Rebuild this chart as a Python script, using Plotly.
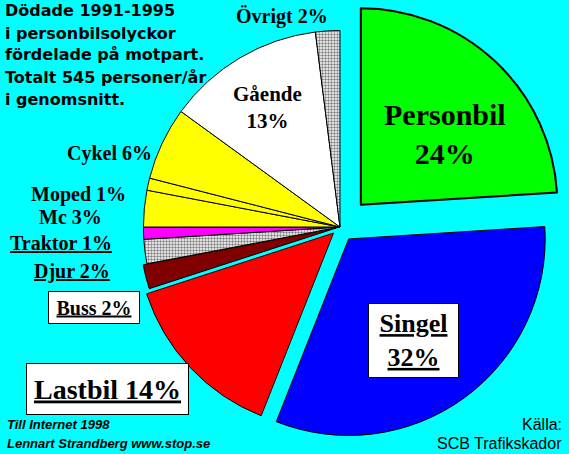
import plotly.graph_objects as go

labels = ["Personbil", "Singel", "Lastbil", "Buss", "Djur", "Traktor",
          "Mc", "Moped", "Cykel", "Gående", "Övrigt"]
values = [24, 32, 14, 2, 2, 1, 3, 1, 6, 13, 2]
pull = [0.155, 0.075, 0.045, 0.02, 0, 0, 0, 0, 0, 0, 0]
colors = ["#00FF00", "#0000FF", "#FF0000", "#800000", "#FFFFFF", "#FF00FF",
          "#FFFF00", "#FFFF00", "#FFFF00", "#FFFFFF", "#FFFFFF"]
patterns = ["", "", "", "", ".", "", "", "", "", "", "."]

title_lines = ["Dödade 1991-1995", "i personbilsolyckor", "fördelade på motpart.",
               "Totalt 545 personer/år", "i genomsnitt."]
credit_lines = ["Till Internet 1998", "Lennart Strandberg www.stop.se"]
source_lines = ["Källa:", "SCB Trafikskador"]

W, H = 569, 454
SERIF = "Liberation Serif"
SANS = "Liberation Sans"

fig = go.Figure(go.Pie(
    labels=labels,
    values=values,
    pull=pull,
    sort=False,
    direction="clockwise",
    rotation=0,
    textinfo="none",
    hoverinfo="label+percent",
    marker=dict(colors=colors,
                line=dict(color="black", width=[2] + [1] * 10),
                pattern=dict(shape=patterns, fgcolor="#808080", bgcolor="#FFFFFF",
                             size=3, solidity=0.5)),
    domain=dict(x=[0.195, 1.0], y=[0, 1]),
))

# label placement: center in pixels, font size, style, line break
label_pos = {
    "Personbil": (445, 134, 30, "plain", True),
    "Singel":    (413, 340, 26, "box", True),
    "Lastbil":   (107, 389, 28, "box", False),
    "Buss":      (94, 307, 20, "box", False),
    "Djur":      (72, 271, 20, "under", False),
    "Traktor":   (61, 243, 20, "under", False),
    "Mc":        (70, 217, 20, "plain", False),
    "Moped":     (78, 194, 20, "plain", False),
    "Cykel":     (109, 153, 20, "plain", False),
    "Gående":    (267, 108, 21, "plain", True),
    "Övrigt":    (282, 16, 20, "plain", False),
}
box_size = {"Singel": (89, 73), "Lastbil": (161, 50), "Buss": (90, 31)}

anns = []
for lab, val in zip(labels, values):
    x, y, size, kind, br = label_pos[lab]
    sep = "<br>" if br else " "
    if kind == "plain":
        txt = f"<b>{lab}{sep}{val}%</b>"
    else:
        txt = f"<b><u>{lab}</u>{sep}<u>{val}%</u></b>" if br else f"<b><u>{lab} {val}%</u></b>"
    a = dict(x=x / W, y=1 - y / H, xref="paper", yref="paper", text=txt,
             showarrow=False, xanchor="center", yanchor="middle",
             font=dict(family=SERIF, size=size, color="black"))
    if kind == "box":
        bw, bh = box_size[lab]
        a.update(bgcolor="white", bordercolor="black", borderwidth=1,
                 borderpad=0, width=bw, height=bh)
    anns.append(a)

for i, line in enumerate(title_lines):
    anns.append(dict(x=3 / W, y=1 - (11 + 22 * i) / H, xref="paper", yref="paper",
                     text=f"<b>{line}</b>", showarrow=False, xanchor="left",
                     yanchor="middle", font=dict(family="DejaVu Sans", size=16, color="black")))

for i, line in enumerate(credit_lines):
    anns.append(dict(x=5 / W, y=1 - (424 + 19 * i) / H, xref="paper", yref="paper",
                     text=f"<b><i>{line}</i></b>", showarrow=False, xanchor="left",
                     yanchor="middle", font=dict(family=SANS, size=13, color="black")))

for i, line in enumerate(source_lines):
    anns.append(dict(x=564 / W, y=1 - (424 + 19 * i) / H, xref="paper", yref="paper",
                     text=line, showarrow=False, xanchor="right",
                     yanchor="middle", font=dict(family=SANS, size=16, color="black")))

fig.update_layout(
    width=W, height=H,
    margin=dict(l=0, r=0, t=0, b=0),
    paper_bgcolor="#00FFFF",
    plot_bgcolor="#00FFFF",
    showlegend=False,
    annotations=anns,
)

# drop the default page margin so the chart sits at the window's corner
fig.write_html("out.html", config={"displayModeBar": False},
               post_script="document.body.style.margin='0';")
